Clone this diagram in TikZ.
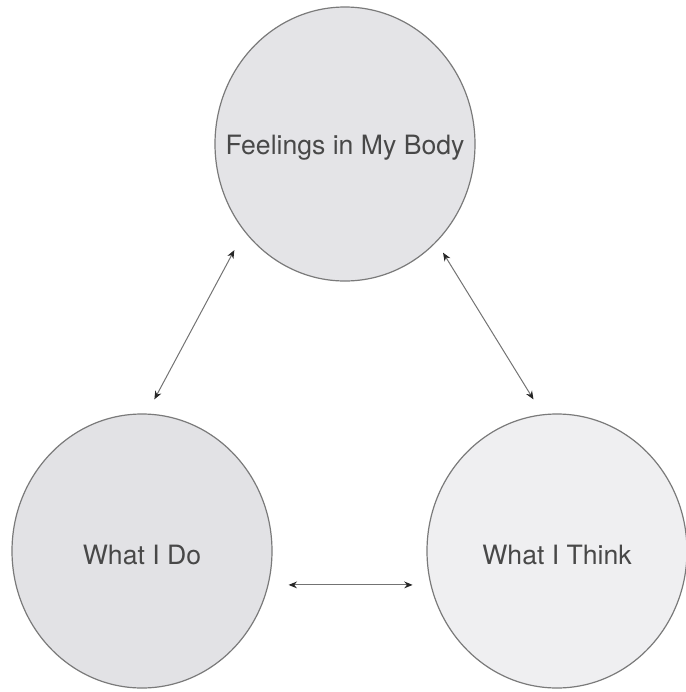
\documentclass[tikz,border=0pt]{standalone}
\usepackage{fontspec}
\setmainfont{TeX Gyre Heros}
\usetikzlibrary{arrows.meta,shapes}
\definecolor{bodyfill}{HTML}{E4E4E7}
\definecolor{dofill}{HTML}{E2E2E5}
\definecolor{thinkfill}{HTML}{EFEFF1}
\definecolor{rimgray}{HTML}{7A7A7A}
\definecolor{inkgray}{HTML}{484848}
\tikzstyle{bubble}=[ellipse,draw=rimgray,line width=0.6pt,minimum width=130pt,minimum height=137pt,inner sep=0pt]
\tikzstyle{caption}=[text=inkgray,font=\fontsize{13.3}{16}\selectfont,yshift=-2pt]
\tikzstyle{link}=[{Stealth[length=4.2pt,width=3.4pt,color=black!85]}-{Stealth[length=4.2pt,width=3.4pt,color=black!85]}, draw=black!55, line width=0.5pt]

\begin{document}
\begin{tikzpicture}[x=0.5pt,y=-0.5pt]
\useasboundingbox (0,0) rectangle (686,692);
\node[bubble,fill=bodyfill,label={[caption]center:Feelings in My Body}] (body) at (345,144) {};
\node[bubble,fill=dofill,label={[caption]center:What I Do}] (do) at (142,551) {};
\node[bubble,fill=thinkfill,label={[caption]center:What I Think}] (think) at (557,551) {};
\draw[link,shorten <=10.5pt,shorten >=8pt](body.221)--(do.88);
\draw[link,shorten <=6.2pt,shorten >=8.7pt](body.313)--(think.96);
\draw[link,shorten <=10pt,shorten >=8.9pt](do.345)--(think.195);
\end{tikzpicture}
\end{document}
